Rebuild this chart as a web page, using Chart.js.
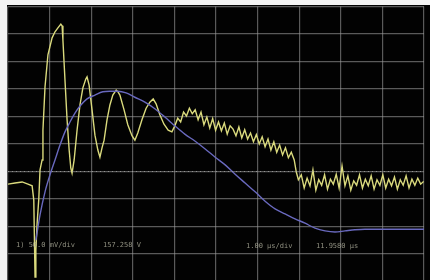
<!DOCTYPE html>
<html>
<head>
<meta charset="utf-8">
<script src="https://cdn.jsdelivr.net/npm/chart.js@4"></script>
<style>
  html, body { margin: 0; padding: 0; background: #000; overflow: hidden; }
  #scope { display: block; }
</style>
</head>
<body>
<canvas id="scope" width="430" height="282"></canvas>
<script>
// channel 1 (yellow), time in us, level in mV
const ch1Time = [
  0, 0.17, 0.34, 0.48, 0.58, 0.62, 0.65, 0.67, 0.70, 0.74, 0.77, 0.82, 0.84, 0.89, 0.96, 1.06, 1.13, 1.20, 1.27, 1.30,
  1.32, 1.37, 1.42, 1.47, 1.51, 1.54, 1.59, 1.66, 1.73, 1.80, 1.87, 1.90, 1.95, 2.02, 2.09, 2.16, 2.21, 2.26, 2.31, 2.38,
  2.45, 2.52, 2.60, 2.64, 2.69, 2.79, 2.88, 2.98, 3.05, 3.12, 3.22, 3.32, 3.41, 3.49, 3.56, 3.65, 3.75, 3.85, 3.94, 4.01,
  4.08, 4.15, 4.22, 4.29, 4.36, 4.43, 4.50, 4.57, 4.64, 4.71, 4.78, 4.85, 4.92, 4.99, 5.06, 5.13, 5.20, 5.27, 5.34, 5.41,
  5.48, 5.55, 5.62, 5.69, 5.76, 5.83, 5.90, 5.97, 6.04, 6.11, 6.18, 6.25, 6.32, 6.39, 6.46, 6.53, 6.60, 6.67, 6.74, 6.81,
  6.88, 6.93, 6.98,
  7.05, 7.12, 7.19, 7.26, 7.33, 7.40, 7.47, 7.54, 7.61, 7.68, 7.75, 7.82, 7.89, 7.96, 8.03, 8.10, 8.17, 8.24, 8.31, 8.38,
  8.45, 8.52, 8.59, 8.66, 8.73, 8.80, 8.87, 8.94, 9.01, 9.08, 9.15, 9.22, 9.29, 9.36, 9.43, 9.50, 9.57, 9.64, 9.71, 9.78,
  9.85, 9.92, 9.99
];
const ch1Level = [
  -73, -71, -69, -73, -76, -102, -242, -193, -144, -100, -47, -29, 25, 104, 162, 193, 204, 211, 218, 215,
  189, 116, 44, -11, -44, -53, -29, 25, 71, 102, 118, 122, 107, 62, 16, -11, -24, -7, 7, 44,
  71, 89, 98, 95, 89, 62, 35, 15, 7, 20, 44, 65, 76, 82, 73, 53, 36, 25, 22, 33,
  47, 40, 58, 51, 65, 55, 62, 44, 58, 35, 49, 29, 46, 25, 40, 24, 38, 18, 33, 27,
  15, 31, 11, 26, 9, 20, 4, 17, 0, 13, -5, 9, -11, 4, -15, -2, -20, -7, -25, -15,
  -29, -51, -65,
  -56, -80, -62, -76, -47, -84, -65, -75, -56, -82, -64, -73, -55, -80, -40, -76, -58, -84, -67, -75,
  -56, -80, -64, -76, -58, -82, -65, -75, -56, -80, -64, -76, -60, -82, -65, -75, -58, -80, -64, -75,
  -62, -73, -68
];

// math / reference trace (blue)
const refTime = [
  0.67, 0.77, 0.89, 1.01, 1.13, 1.25, 1.37, 1.49, 1.61, 1.73, 1.90, 2.09, 2.28, 2.45, 2.64, 2.84, 3.05, 3.29, 3.53, 3.77,
  4.01, 4.25, 4.50, 4.74, 4.98, 5.22, 5.46, 5.70, 5.94, 6.18, 6.42, 6.66, 6.90, 7.14, 7.38, 7.62, 7.86, 8.10, 8.34, 8.58,
  8.94, 9.30, 9.66, 10.0
];
const refLevel = [
  -175, -129, -87, -56, -29, -2, 22, 40, 56, 69, 82, 89, 95, 96, 96, 93, 85, 76, 64, 49,
  33, 18, 5, -9, -24, -38, -55, -71, -87, -104, -118, -127, -136, -144, -153, -158, -160, -158, -156, -155,
  -155, -155, -155, -155
];

// dotted ground marker
const markerTime = [0, 10];
const markerLevel = [-50, -50];

const readouts = ['1) 50.0 mV/div', '157.258 V', '1.00 \u00b5s/div', '11.9580 \u00b5s'];

function pts(xs, ys) {
  return xs.map((x, i) => ({ x: x, y: ys[i] }));
}

const screenPlugin = {
  id: 'screen',
  beforeDraw(chart) {
    const ctx = chart.ctx;
    ctx.save();
    ctx.fillStyle = '#020202';
    ctx.fillRect(0, 0, chart.width, chart.height);
    ctx.fillStyle = '#f4f4f4';
    ctx.fillRect(0, 0, 7, chart.height);
    ctx.fillRect(0, 0, chart.width, 5);
    ctx.restore();
  },
  afterDraw(chart) {
    const ctx = chart.ctx;
    ctx.save();
    ctx.font = '7px "DejaVu Sans Mono", monospace';
    ctx.fillStyle = 'rgba(190,190,170,0.75)';
    ctx.textBaseline = 'middle';
    ctx.fillText(readouts[0], 16, 245);
    ctx.fillText(readouts[1], 103, 245);
    ctx.fillText(readouts[2], 246, 246);
    ctx.fillText(readouts[3], 316, 246);
    ctx.restore();
  }
};

new Chart(document.getElementById('scope'), {
  type: 'line',
  data: {
    datasets: [
      {
        data: pts(markerTime, markerLevel),
        borderColor: 'rgba(170,170,170,0.7)',
        borderWidth: 1,
        borderDash: [1, 3],
        pointRadius: 0
      },
      {
        data: pts(refTime, refLevel),
        borderColor: 'rgb(105,105,190)',
        borderWidth: 1.4,
        cubicInterpolationMode: 'monotone',
        pointRadius: 0
      },
      {
        data: pts(ch1Time, ch1Level),
        borderColor: 'rgb(218,218,125)',
        borderWidth: 1.4,
        tension: 0,
        pointRadius: 0
      }
    ]
  },
  options: {
    responsive: false,
    animation: false,
    events: [],
    layout: { padding: { left: 8, top: 6.5, right: 6, bottom: 0.5 } },
    plugins: { legend: { display: false }, tooltip: { enabled: false } },
    scales: {
      x: {
        type: 'linear',
        min: 0,
        max: 10,
        ticks: { display: false, stepSize: 1 },
        grid: { color: 'rgba(150,150,150,0.6)', lineWidth: 1.2, drawTicks: false },
        border: { display: false }
      },
      y: {
        min: -250,
        max: 250,
        ticks: { display: false, stepSize: 50 },
        grid: { color: 'rgba(150,150,150,0.6)', lineWidth: 1.2, drawTicks: false },
        border: { display: false }
      }
    }
  },
  plugins: [screenPlugin]
});
</script>
</body>
</html>
